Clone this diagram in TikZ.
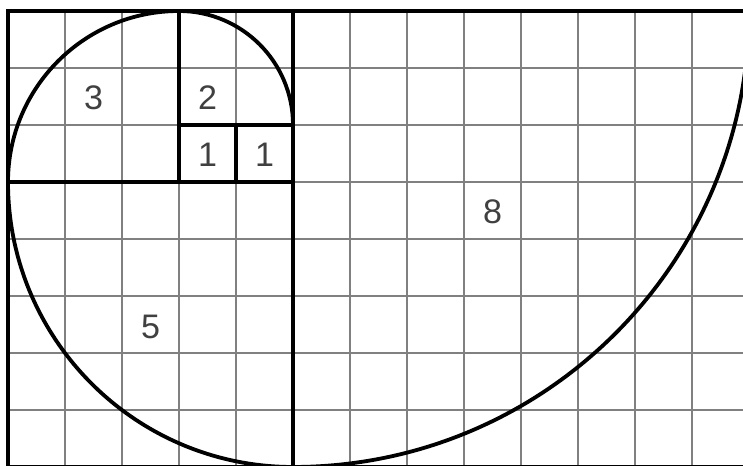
\documentclass[tikz,border=0pt]{standalone}
\usepackage{fontspec}
\setmainfont{Liberation Sans}
\begin{document}
\begin{tikzpicture}[x=1cm,y=-1cm,
  gridline/.style={draw=black!50,line width=0.65pt},
  boxline/.style={draw=black,line width=2.1pt,line cap=rect},
  spiral/.style={draw=black,line width=1.9pt},
  numlabel/.style={text=black!75,font=\fontsize{17}{18}\selectfont,inner sep=0pt}]
\useasboundingbox (-0.1404,-0.193) rectangle (12.895,7.982);
\fill[white] (-0.1404,-0.193) rectangle (12.895,7.982);
% grid
\draw[gridline] (0,0) grid (13,8);
% squares
\draw[boxline] (0,0) rectangle (13,8);
\draw[boxline] (5,0) -- (5,8);
\draw[boxline] (0,3) -- (5,3);
\draw[boxline] (3,0) -- (3,3);
\draw[boxline] (3,2) -- (5,2);
\draw[boxline] (4,2) -- (4,3);
% spiral
\coordinate (s0) at (5,2);
\draw[spiral] (s0) arc[start angle=0,end angle=-90,radius=2]
  arc[start angle=-90,end angle=-180,radius=3]
  arc[start angle=180,end angle=90,radius=5]
  arc[start angle=90,end angle=0,radius=8];
% labels
\node[numlabel] (l3) at (1.5,1.52) {3};
\node[numlabel] (l2) at (3.5,1.52) {2};
\node[numlabel] (l1a) at (3.5,2.52) {1};
\node[numlabel] (l1b) at (4.5,2.52) {1};
\node[numlabel] (l8) at (8.5,3.53) {8};
\node[numlabel] (l5) at (2.5,5.54) {5};
\end{tikzpicture}
\end{document}
